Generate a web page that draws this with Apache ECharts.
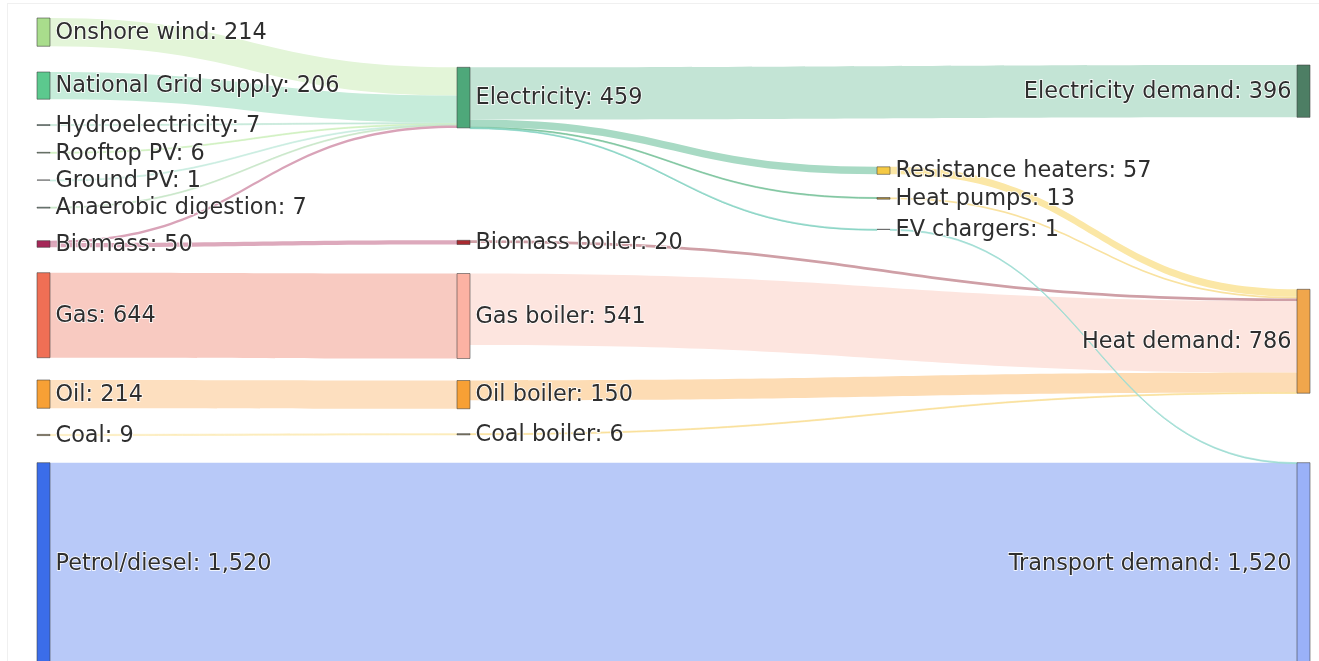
<!DOCTYPE html>
<html>
<head>
<meta charset="utf-8">
<script src="https://cdn.jsdelivr.net/npm/echarts@6/dist/echarts.min.js"></script>
<style>
    html, body { margin: 0; padding: 0; background: #fff; overflow: hidden; }
    #frame { position: absolute; left: 7px; top: 3px; width: 1320px; height: 670px; border: 1px solid #f0f0f0; }
    #result { position: absolute; left: 0; top: 0; width: 1319px; height: 661px; }
</style>
</head>
<body>
<div id="frame"></div>
<div id="result"></div>
<script>
// nodes and the value shown on each label
var nodeNames = [
    'Onshore wind', 'National Grid supply', 'Hydroelectricity', 'Rooftop PV', 'Ground PV',
    'Anaerobic digestion', 'Biomass', 'Gas', 'Oil', 'Coal', 'Petrol/diesel',
    'Electricity', 'Biomass boiler', 'Gas boiler', 'Oil boiler', 'Coal boiler',
    'Resistance heaters', 'Heat pumps', 'EV chargers',
    'Electricity demand', 'Heat demand', 'Transport demand'
];
var nodeValues = [214, 206, 7, 6, 1, 7, 50, 644, 214, 9, 1520,
    459, 20, 541, 150, 6, 57, 13, 1, 396, 786, 1520];

// flows
var linkSources = [
    'Onshore wind', 'National Grid supply', 'Hydroelectricity', 'Rooftop PV', 'Ground PV',
    'Anaerobic digestion', 'Biomass', 'Biomass', 'Gas', 'Oil', 'Coal', 'Petrol/diesel',
    'Electricity', 'Electricity', 'Electricity', 'Electricity',
    'Resistance heaters', 'Heat pumps', 'Biomass boiler', 'Gas boiler', 'Oil boiler', 'Coal boiler',
    'EV chargers'
];
var linkTargets = [
    'Electricity', 'Electricity', 'Electricity', 'Electricity', 'Electricity',
    'Electricity', 'Electricity', 'Biomass boiler', 'Gas boiler', 'Oil boiler', 'Coal boiler', 'Transport demand',
    'Electricity demand', 'Resistance heaters', 'Heat pumps', 'EV chargers',
    'Heat demand', 'Heat demand', 'Heat demand', 'Heat demand', 'Heat demand', 'Heat demand',
    'Transport demand'
];
var linkValues = [214, 206, 7, 6, 1, 7, 18, 32, 644, 214, 9, 1520,
    396, 57, 4, 1, 57, 13, 20, 541, 150, 6, 1];

// styling (kept apart from the data)
var nodeColors = ['#a9dd8c', '#5cc98e', '#6f9a88', '#7aa07a', '#8aa8a0', '#7a9a8a', '#a52858',
    '#ef6f55', '#f7a035', '#a08c5a', '#3b6de9', '#4ea87a', '#a82a30', '#fcb2a3', '#f7a035',
    '#8a8060', '#f5c944', '#b09040', '#8a9a9a', '#4d7e64', '#f0a64c', '#9ab1f8'];
var linkColors = ['#e3f5d8', '#c6ecda', '#c4e8d8', '#d0f0c0', '#c8ece0', '#c8e6c8', '#d9a3b8',
    '#dda9bc', '#f8cac1', '#fddfbf', '#fcecbc', '#b8c9f8', '#c3e4d5', '#a8dac4', '#7cc49e',
    '#88d4c4', '#fbe7a6', '#f9e2a0', '#cf9fa6', '#fde5df', '#fddcb4', '#f9e09a', '#9edcd3'];
// node top positions in px (as laid out in the original)
var nodeTops = [18, 72, 124.6, 152.3, 180, 207.2, 240.7, 272.7, 380, 434.4, 462.7,
    67.3, 240.3, 273.5, 380.5, 433.7, 166.8, 197.5, 229.3, 65, 289.3, 462.7];
var layoutHeight = 661;

function show_sankey(myChart){
    var data = [];
    for (var i = 0; i < nodeNames.length; i++) {
        var item = {
            name: nodeNames[i],
            value: nodeValues[i],
            localY: nodeTops[i] / layoutHeight,
            itemStyle: {color: nodeColors[i]}
        };
        if (nodeNames[i].indexOf('demand') >= 0) {
            item.label = {position: 'left'};
        }
        data.push(item);
    }
    var links = [];
    for (var j = 0; j < linkValues.length; j++) {
        var thin = linkValues[j] < 10;
        links.push({
            source: linkSources[j],
            target: linkTargets[j],
            value: linkValues[j],
            lineStyle: {
                color: linkColors[j],
                opacity: 1,
                borderColor: thin ? linkColors[j] : null,
                borderWidth: thin ? 0.7 : 0
            }
        });
    }
    var option = {
        animation: false,
        series: [{
            type: 'sankey',
            left: 37,
            right: 9,
            top: 0,
            bottom: 0,
            nodeWidth: 13,
            nodeGap: 28.1,
            layoutIterations: 0,
            draggable: false,
            emphasis: {disabled: true},
            data: data,
            links: links,
            itemStyle: {
                borderColor: 'rgba(60, 60, 60, 0.55)',
                borderWidth: 1
            },
            lineStyle: {
                curveness: 0.5
            },
            label: {
                show: true,
                position: 'right',
                distance: 5,
                offset: [0, 1],
                fontFamily: 'DejaVu Sans',
                fontSize: 22.4,
                color: '#2e2e2e',
                textBorderColor: '#fff',
                textBorderWidth: 1.5,
                formatter: function(params){
                    return params.name + ': ' + Number(params.value).toLocaleString('en-US');
                }
            }
        }]
    };
    myChart.setOption(option);
}

var myChart = echarts.init(document.getElementById('result'));
show_sankey(myChart);
</script>
</body>
</html>
